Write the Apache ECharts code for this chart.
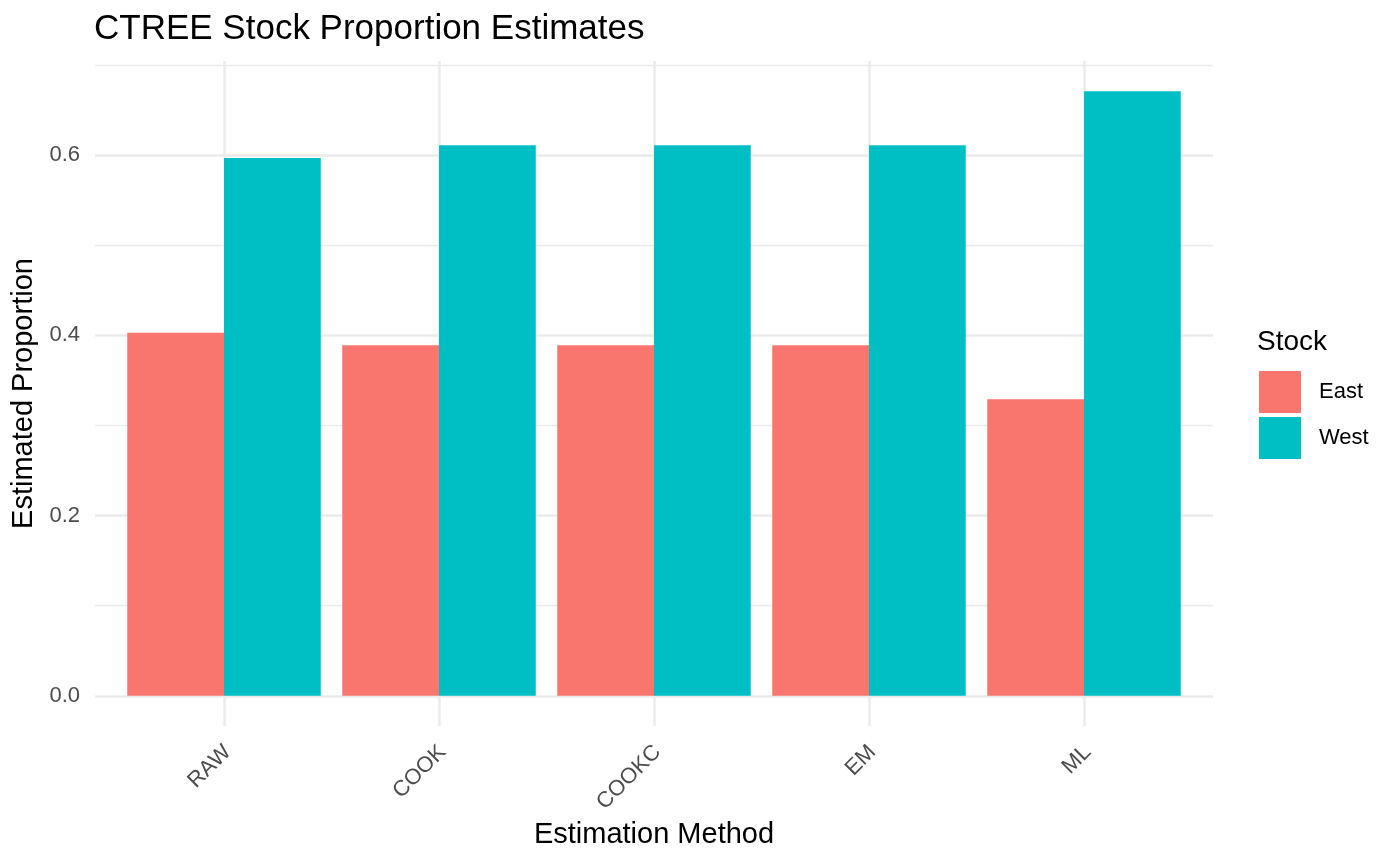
<!DOCTYPE html>
<html><head><meta charset="utf-8">
<script src="https://cdn.jsdelivr.net/npm/echarts@6/dist/echarts.min.js"></script>
<style>html,body{margin:0;padding:0;background:#fff}#c{width:1400px;height:865px}</style>
</head><body><div id="c"></div>
<script>
const categories = ['RAW', 'COOK', 'COOKC', 'EM', 'ML'];
const eastValues = [0.403, 0.389, 0.389, 0.389, 0.329];
const westValues = [0.597, 0.611, 0.611, 0.611, 0.671];
const yMajorTicks = [0, 0.2, 0.4, 0.6];
const yMinorTicks = [0.1, 0.3, 0.5, 0.7];
const xPositions = [1, 2, 3, 4, 5];

const F = '"Liberation Sans", Arial, sans-serif';
const dataMax = Math.max(...eastValues, ...westValues);
const yMin = -0.05 * dataMax, yMax = dataMax * 1.05;
const grid = '#EBEBEB';

const chart = echarts.init(document.getElementById('c'), null, {renderer: 'canvas'});
chart.setOption({
  animation: false,
  backgroundColor: '#fff',
  title: [
    {text: 'CTREE Stock Proportion Estimates', left: 94, top: 12, padding: 0,
     textStyle: {fontFamily: F, fontSize: 35, fontWeight: 'normal', color: '#000'}},
    {text: 'Stock', left: 1257, top: 328, padding: 0,
     textStyle: {fontFamily: F, fontSize: 28, fontWeight: 'normal', color: '#000'}}
  ],
  legend: {
    orient: 'vertical', left: 1259, top: 371, padding: 0,
    itemWidth: 42, itemHeight: 42, itemGap: 4, icon: 'rect', selectedMode: false,
    data: ['East', 'West'],
    textStyle: {fontFamily: F, fontSize: 22, color: '#000', padding: [0, 0, 0, 13]}
  },
  grid: {left: 95, right: 187, top: 61, bottom: 139, containLabel: false},
  xAxis: {
    type: 'value', min: 0.4, max: 5.6,
    axisLine: {show: false},
    axisTick: {show: false, customValues: xPositions},
    splitLine: {show: true, lineStyle: {color: grid, width: 2.5}},
    axisLabel: {
      customValues: xPositions, rotate: 45, margin: 8,
      align: 'right', verticalAlign: 'top', padding: [2, 8, 0, 0],
      fontFamily: F, fontSize: 22, color: '#4D4D4D',
      formatter: v => categories[Math.round(v) - 1]
    },
    name: 'Estimation Method', nameLocation: 'middle', nameGap: 93,
    nameTextStyle: {fontFamily: F, fontSize: 29, color: '#000'}
  },
  yAxis: [
    {
      type: 'value', min: yMin, max: yMax,
      axisLine: {show: false},
      axisTick: {show: false, customValues: yMajorTicks},
      splitLine: {show: true, lineStyle: {color: grid, width: 2.5}},
      axisLabel: {customValues: yMajorTicks, margin: 15, fontFamily: F, fontSize: 22, color: '#4D4D4D',
                  formatter: v => v.toFixed(1)},
      name: 'Estimated Proportion', nameLocation: 'middle', nameGap: 57,
      nameTextStyle: {fontFamily: F, fontSize: 29, color: '#000'}
    },
    {
      type: 'value', min: yMin, max: yMax, position: 'left',
      axisLine: {show: false},
      axisTick: {show: false, customValues: yMinorTicks},
      splitLine: {show: true, lineStyle: {color: grid, width: 1.3}},
      axisLabel: {show: false, customValues: yMinorTicks}
    }
  ],
  series: [
    {name: 'East', type: 'bar', barWidth: 96.75, barGap: '0%',
     itemStyle: {color: '#F8766D'},
     data: eastValues.map((v, i) => [xPositions[i], v])},
    {name: 'West', type: 'bar', barWidth: 96.75, barGap: '0%',
     itemStyle: {color: '#00BFC4'},
     data: westValues.map((v, i) => [xPositions[i], v])}
  ]
});
</script></body></html>
